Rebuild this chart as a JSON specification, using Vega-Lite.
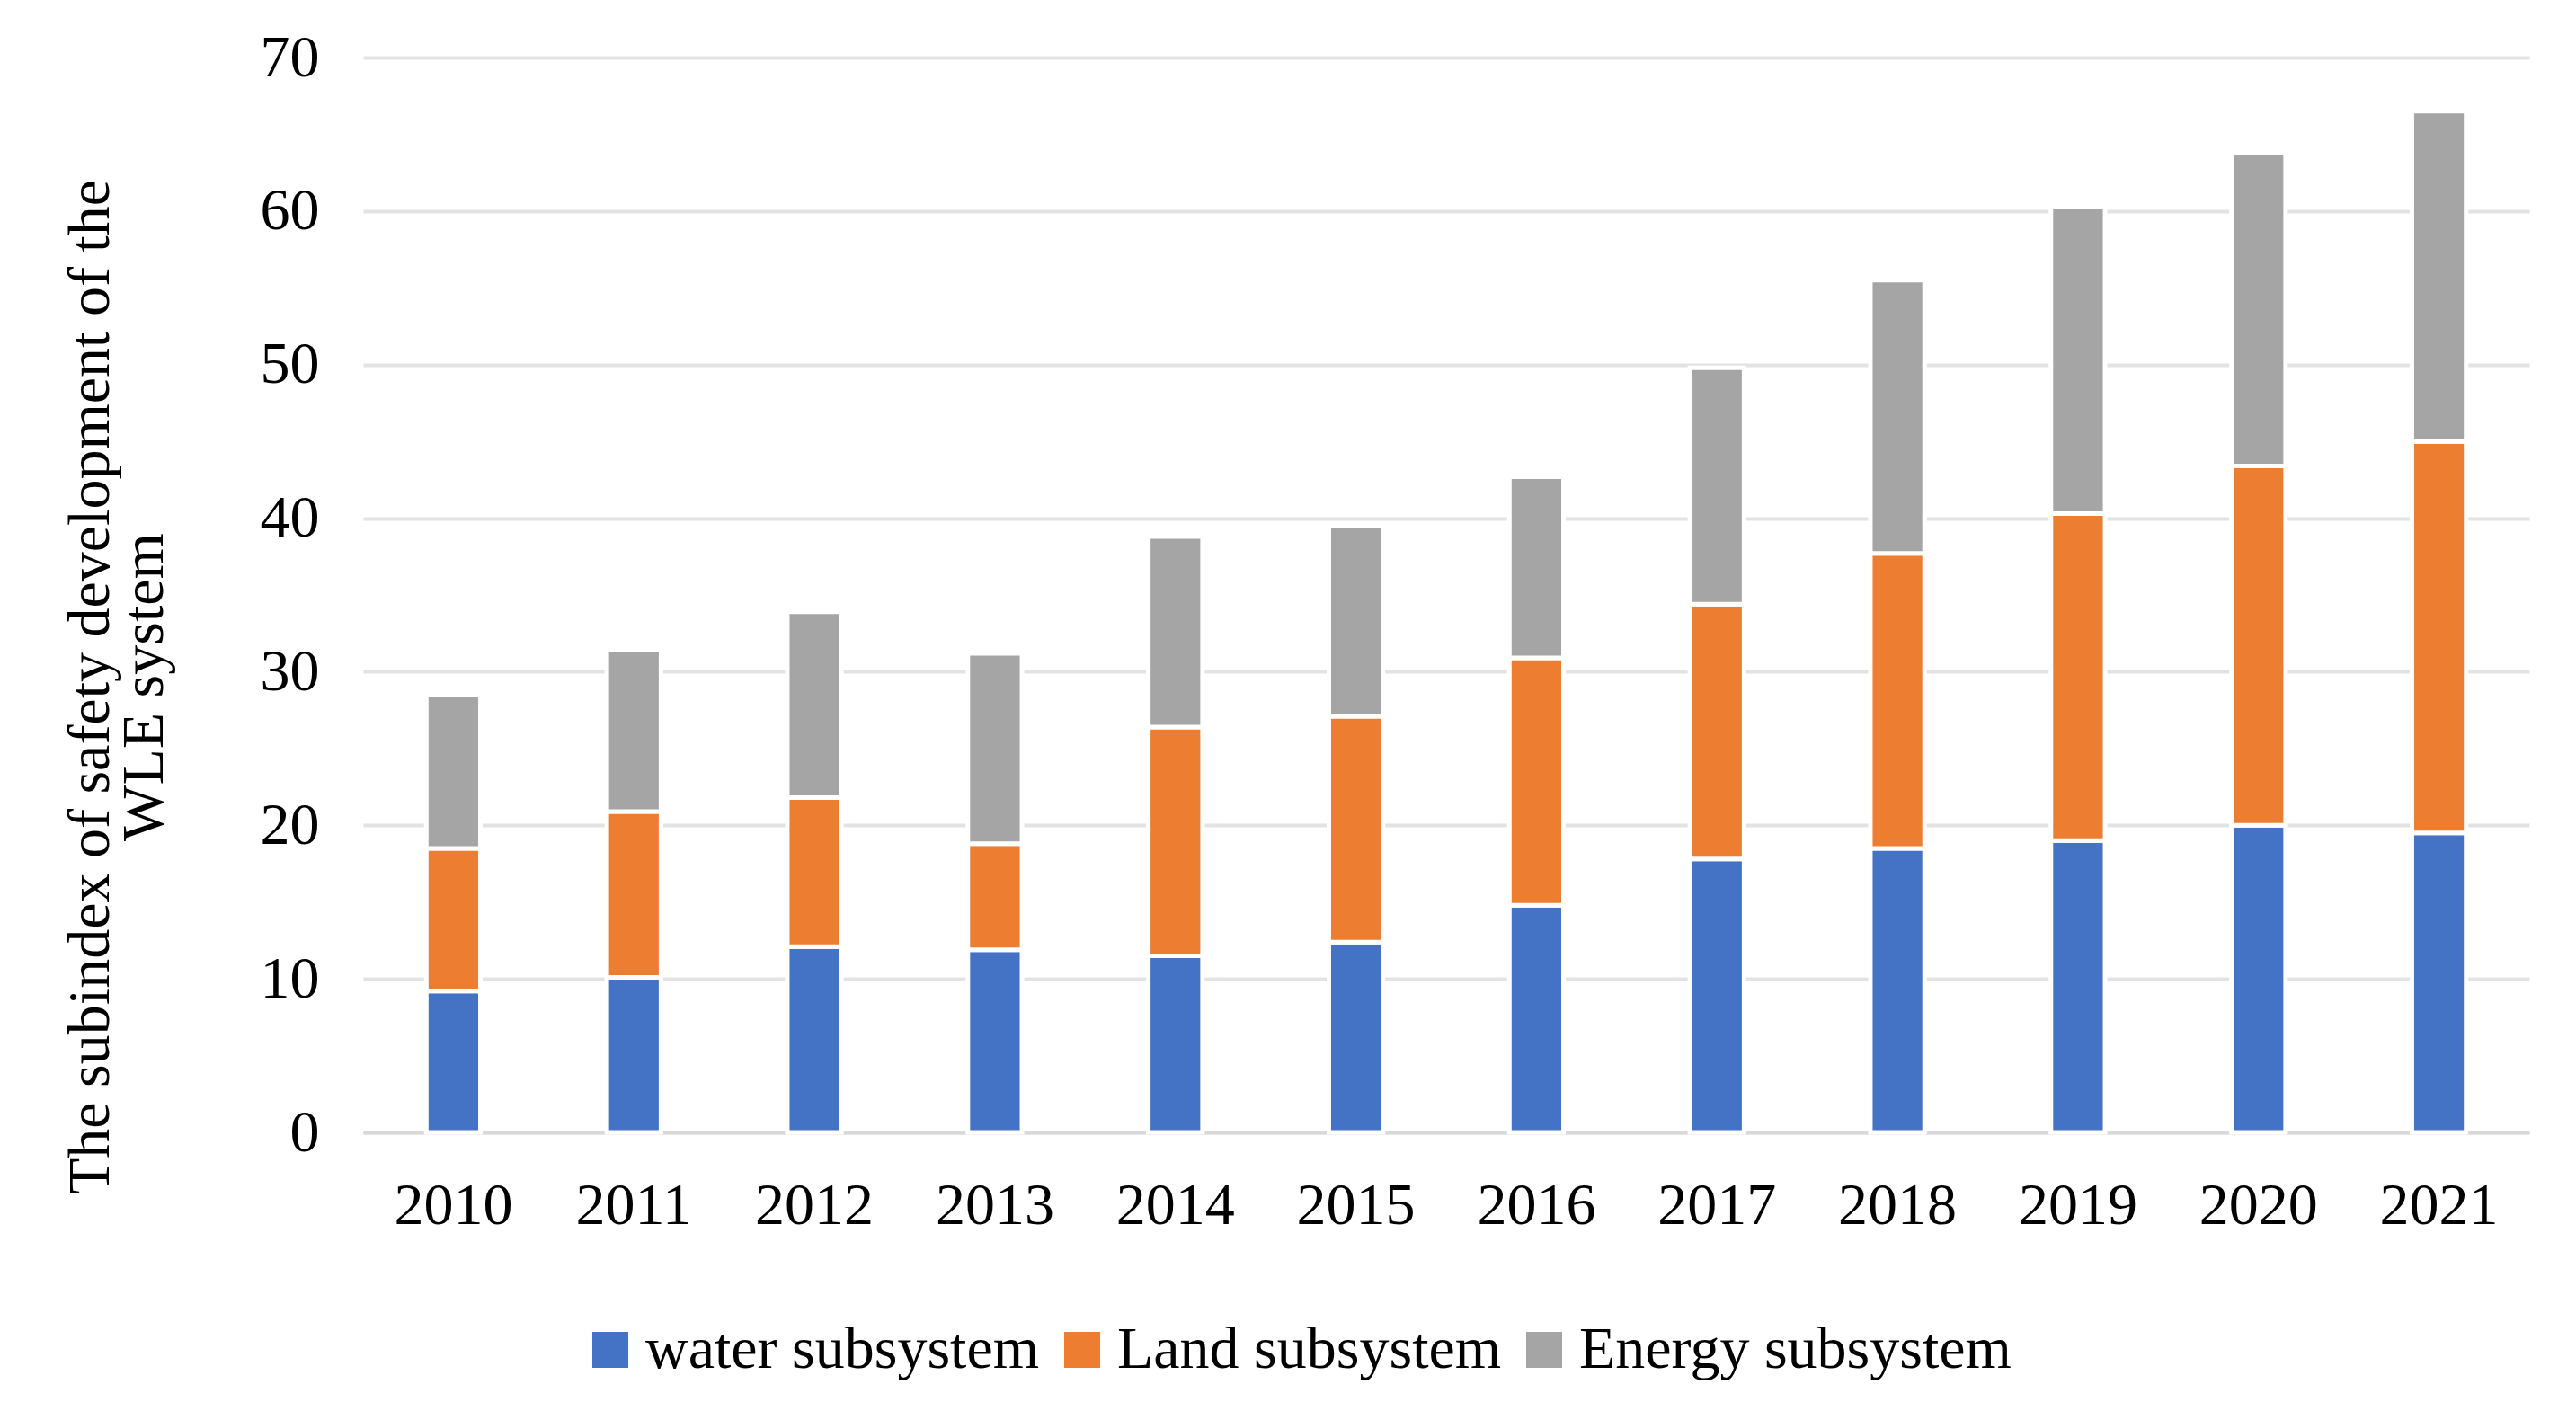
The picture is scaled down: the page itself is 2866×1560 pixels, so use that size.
{
  "$schema": "https://vega.github.io/schema/vega-lite/v6.json",
  "autosize": "none",
  "width": 2410,
  "height": 1196,
  "padding": {"left": 404, "top": 64, "right": 52, "bottom": 300},
  "background": "white",
  "config": {
    "view": {"stroke": null},
    "font": "Liberation Serif",
    "axis": {"labelFont": "Liberation Serif", "titleFont": "Liberation Serif", "labelColor": "black", "titleColor": "black"},
    "legend": {"labelFont": "Liberation Serif", "labelColor": "black"}
  },
  "data": {
    "values": [
      {"year": "2010", "subsystem": "water subsystem", "value": 9.2},
      {"year": "2010", "subsystem": "Land subsystem", "value": 9.3},
      {"year": "2010", "subsystem": "Energy subsystem", "value": 10.0},
      {"year": "2011", "subsystem": "water subsystem", "value": 10.1},
      {"year": "2011", "subsystem": "Land subsystem", "value": 10.8},
      {"year": "2011", "subsystem": "Energy subsystem", "value": 10.5},
      {"year": "2012", "subsystem": "water subsystem", "value": 12.1},
      {"year": "2012", "subsystem": "Land subsystem", "value": 9.7},
      {"year": "2012", "subsystem": "Energy subsystem", "value": 12.1},
      {"year": "2013", "subsystem": "water subsystem", "value": 11.9},
      {"year": "2013", "subsystem": "Land subsystem", "value": 6.9},
      {"year": "2013", "subsystem": "Energy subsystem", "value": 12.4},
      {"year": "2014", "subsystem": "water subsystem", "value": 11.5},
      {"year": "2014", "subsystem": "Land subsystem", "value": 14.9},
      {"year": "2014", "subsystem": "Energy subsystem", "value": 12.4},
      {"year": "2015", "subsystem": "water subsystem", "value": 12.4},
      {"year": "2015", "subsystem": "Land subsystem", "value": 14.7},
      {"year": "2015", "subsystem": "Energy subsystem", "value": 12.4},
      {"year": "2016", "subsystem": "water subsystem", "value": 14.8},
      {"year": "2016", "subsystem": "Land subsystem", "value": 16.1},
      {"year": "2016", "subsystem": "Energy subsystem", "value": 11.8},
      {"year": "2017", "subsystem": "water subsystem", "value": 17.8},
      {"year": "2017", "subsystem": "Land subsystem", "value": 16.6},
      {"year": "2017", "subsystem": "Energy subsystem", "value": 15.4},
      {"year": "2018", "subsystem": "water subsystem", "value": 18.5},
      {"year": "2018", "subsystem": "Land subsystem", "value": 19.2},
      {"year": "2018", "subsystem": "Energy subsystem", "value": 17.8},
      {"year": "2019", "subsystem": "water subsystem", "value": 19.0},
      {"year": "2019", "subsystem": "Land subsystem", "value": 21.3},
      {"year": "2019", "subsystem": "Energy subsystem", "value": 20.0},
      {"year": "2020", "subsystem": "water subsystem", "value": 20.0},
      {"year": "2020", "subsystem": "Land subsystem", "value": 23.4},
      {"year": "2020", "subsystem": "Energy subsystem", "value": 20.4},
      {"year": "2021", "subsystem": "water subsystem", "value": 19.5},
      {"year": "2021", "subsystem": "Land subsystem", "value": 25.5},
      {"year": "2021", "subsystem": "Energy subsystem", "value": 21.5}
    ]
  },
  "mark": {"type": "bar", "stroke": "white", "strokeWidth": 5},
  "encoding": {
    "x": {
      "field": "year",
      "type": "nominal",
      "scale": {"paddingInner": 0.7, "paddingOuter": 0.35},
      "axis": {
        "title": null,
        "labelAngle": 0,
        "labelFontSize": 66,
        "labelPadding": 49,
        "ticks": false,
        "domain": true,
        "domainColor": "#d9d9d9",
        "domainWidth": 4,
        "grid": false
      }
    },
    "y": {
      "field": "value",
      "type": "quantitative",
      "stack": "zero",
      "scale": {"domain": [0, 70], "nice": false},
      "axis": {
        "values": [0, 10, 20, 30, 40, 50, 60, 70],
        "title": ["The subindex of safety development of the", "WLE system"],
        "titleFontSize": 66,
        "titleFontWeight": "normal",
        "titleAngle": -90,
        "titleAlign": "center",
        "titleBaseline": "middle",
        "titleLineHeight": 60,
        "titleX": -304,
        "titleY": 700,
        "labelFontSize": 66,
        "labelPadding": 49,
        "ticks": false,
        "domain": false,
        "grid": true,
        "gridColor": "#e3e3e3",
        "gridWidth": 4
      }
    },
    "color": {
      "field": "subsystem",
      "type": "nominal",
      "scale": {
        "domain": ["water subsystem", "Land subsystem", "Energy subsystem"],
        "range": ["#4472C4", "#ED7D31", "#A5A5A5"]
      },
      "legend": {
        "title": null,
        "orient": "none",
        "direction": "horizontal",
        "legendX": 242,
        "legendY": 1405,
        "symbolType": "square",
        "symbolSize": 1600,
        "symbolStrokeWidth": 0,
        "labelFontSize": 66,
        "labelOffset": 6,
        "columnPadding": 14,
        "padding": 0,
        "labelLimit": 1000
      }
    },
    "order": {"field": "subsystem", "sort": "descending"}
  }
}
